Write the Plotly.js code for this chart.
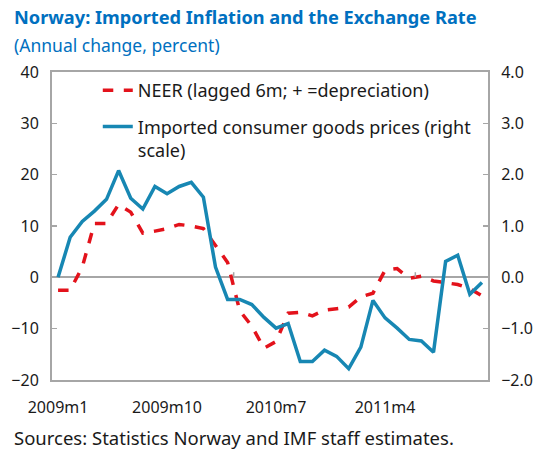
<!DOCTYPE html>
<html>
<head>
<meta charset="utf-8">
<script src="https://cdn.plot.ly/plotly-3.0.1.min.js"></script>
<style>html,body{margin:0;padding:0;background:#fff;}#chart{width:541px;height:451px;}</style>
</head>
<body>
<div id="chart"></div>
<script>
// Months 2009m1 .. 2011m12
const years = [2009, 2010, 2011];
const months = [];
years.forEach(y => { for (let m = 1; m <= 12; m++) months.push(y + "m" + m); });

const tickLabels = ["2009m1", "2009m10", "2010m7", "2011m4"];

// NEER (lagged 6m; + = depreciation), left scale, percent
const neer = [
  -2.5, -2.5, 2.0, 10.5, 10.5, 14.2, 12.7, 8.6, 9.0, 9.5, 10.3, 10.0,
  9.5, 6.2, 2.9, -6.5, -9.5, -13.8, -12.5, -7.0, -6.8, -7.5, -6.4, -6.1,
  -5.8, -3.8, -3.1, 1.4, 1.7, -0.2, 0.2, -0.7, -1.1, -1.4, -2.2, -3.6
];

// Imported consumer goods prices, right scale, percent
const importPrices = [
  0.0, 0.78, 1.09, 1.29, 1.52, 2.08, 1.54, 1.33, 1.77, 1.63, 1.77, 1.85,
  1.56, 0.2, -0.43, -0.43, -0.53, -0.78, -0.99, -0.9, -1.64, -1.64, -1.42, -1.54,
  -1.78, -1.36, -0.45, -0.79, -0.99, -1.21, -1.24, -1.46, 0.31, 0.43, -0.33, -0.1
];

const font = "Noto Sans, DejaVu Sans, sans-serif";
const frame = "#A6A6A6";

const traces = [
  {
    x: months, y: neer, type: "scatter", mode: "lines",
    name: "NEER (lagged 6m; + =depreciation)",
    legendgroup: "a",
    line: {color: "#E3121B", width: 3.5, dash: "dash"},
    yaxis: "y"
  },
  {
    x: months, y: importPrices, type: "scatter", mode: "lines",
    name: "Imported consumer goods prices (right<br>scale)",
    legendgroup: "b",
    line: {color: "#1787B3", width: 3.5},
    yaxis: "y2"
  }
];

const layout = {
  width: 541, height: 451,
  margin: {l: 52, r: 53, t: 72, b: 71},
  paper_bgcolor: "#fff", plot_bgcolor: "#fff",
  font: {family: font, size: 16, color: "#1a1a1a"},
  showlegend: true,
  legend: {
    x: 0.105, y: 1.0, xanchor: "left", yanchor: "top",
    bgcolor: "rgba(0,0,0,0)", borderwidth: 0,
    font: {family: font, size: 18, color: "#1a1a1a"},
    tracegroupgap: 10, valign: "top", traceorder: "grouped"
  },
  xaxis: {
    type: "category",
    range: [-0.5, 35.5],
    tickmode: "array", tickvals: tickLabels, ticktext: tickLabels,
    ticks: "outside", ticklen: 12, tickcolor: "rgba(0,0,0,0)",
    showgrid: false, zeroline: false,
    showline: true, linecolor: frame, linewidth: 2, mirror: true,
    tickfont: {family: font, size: 16, color: "#1a1a1a"}
  },
  yaxis: {
    range: [-20, 40], dtick: 10, tick0: 0,
    ticks: "inside", ticklen: 5, tickcolor: frame, tickwidth: 1.5,
    showgrid: false, zeroline: true, zerolinecolor: frame, zerolinewidth: 2,
    showline: true, linecolor: frame, linewidth: 2,
    ticklabelstandoff: 8,
    tickfont: {family: font, size: 16, color: "#1a1a1a"}
  },
  yaxis2: {
    overlaying: "y", side: "right",
    range: [-2, 4], dtick: 1, tick0: 0, tickformat: ".1f",
    ticks: "inside", ticklen: 5, tickcolor: frame, tickwidth: 1.5,
    showgrid: false, zeroline: false,
    showline: true, linecolor: frame, linewidth: 2,
    ticklabelstandoff: 8,
    tickfont: {family: font, size: 16, color: "#1a1a1a"}
  },
  shapes: [
    {type: "line", xref: "x", yref: "y", x0: 14.5, x1: 14.5, y0: 0, y1: 1, line: {color: frame, width: 1.5}},
    {type: "line", xref: "x", yref: "y", x0: 29.5, x1: 29.5, y0: 0, y1: 1, line: {color: frame, width: 1.5}}
  ],
  annotations: [
    {text: "<b>Norway: Imported Inflation and the Exchange Rate</b>", xref: "paper", yref: "paper",
     x: -0.092, y: 1.178, xanchor: "left", yanchor: "middle", showarrow: false,
     font: {family: font, size: 18.2, color: "#0070C0"}},
    {text: "(Annual change, percent)", xref: "paper", yref: "paper",
     x: -0.092, y: 1.087, xanchor: "left", yanchor: "middle", showarrow: false,
     font: {family: font, size: 17.5, color: "#0070C0"}},
    {text: "Sources: Statistics Norway and IMF staff estimates.", xref: "paper", yref: "paper",
     x: -0.092, y: -0.188, xanchor: "left", yanchor: "middle", showarrow: false,
     font: {family: font, size: 18.5, color: "#1a1a1a"}}
  ]
};

Plotly.newPlot("chart", traces, layout, {displayModeBar: false, staticPlot: true});
</script>
</body>
</html>
